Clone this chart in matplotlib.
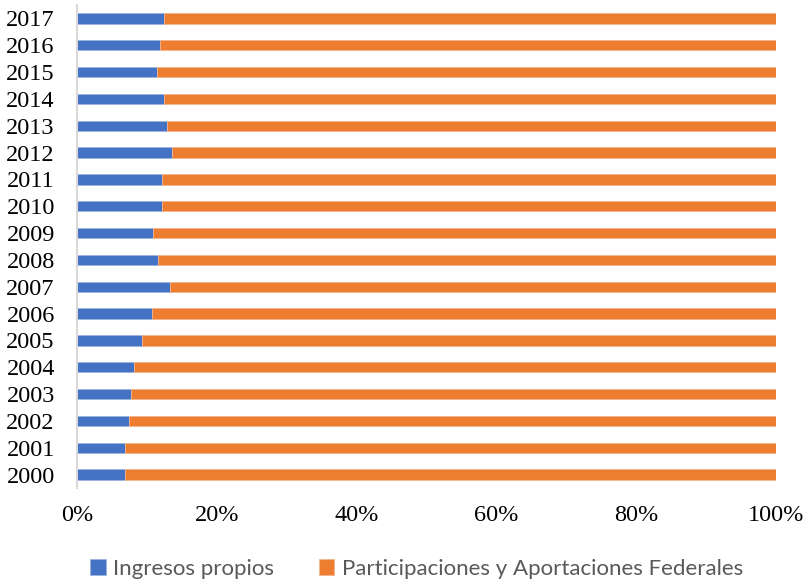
import numpy as np
import matplotlib.pyplot as plt

# Datos (porcentaje de ingresos propios por año)
years = [str(y) for y in range(2000, 2018)]
ingresos_propios = [6.9, 6.9, 7.4, 7.7, 8.1, 9.3, 10.7, 13.3, 11.6,
                    10.9, 12.2, 12.1, 13.6, 12.9, 12.45, 11.4, 11.9, 12.45]
participaciones = [100 - v for v in ingresos_propios]
xticks = [0, 20, 40, 60, 80, 100]

blue = '#4472C4'
orange = '#ED7D31'

fig = plt.figure(figsize=(8.09, 5.84), dpi=100)
ax = fig.add_axes([77 / 809, 96 / 584, 699 / 809, 483 / 584])

pos = np.arange(len(years))
ax.barh(pos, ingresos_propios, height=0.39, color=blue,
        edgecolor='#9DB3E0', linewidth=0.6, label='Ingresos propios')
ax.barh(pos, participaciones, left=ingresos_propios, height=0.39, color=orange,
        edgecolor='#F4B48A', linewidth=0.6,
        label='Participaciones y Aportaciones Federales')

ax.set_xlim(0, 100)
ax.set_ylim(-0.5, len(years) - 0.5)
ax.set_yticks(pos)
ax.set_yticklabels(years, family='Liberation Serif', fontsize=17.5)
ax.set_xticks(xticks)
ax.set_xticklabels([f'{t}%' for t in xticks], family='Liberation Serif', fontsize=17.5)
ax.tick_params(axis='both', length=0)
ax.tick_params(axis='x', pad=12)
ax.tick_params(axis='y', pad=16)

for s in ['top', 'right', 'bottom']:
    ax.spines[s].set_visible(False)
ax.spines['left'].set_color('#D9D9D9')
ax.spines['left'].set_linewidth(1.5)

fig.legend(loc='center', bbox_to_anchor=(0.515, 0.026), ncol=2, frameon=False,
           prop={'family': ['Lato', 'DejaVu Sans'], 'size': 16},
           labelcolor='#595959', handlelength=0.7, handleheight=0.7,
           handletextpad=0.35, columnspacing=2.0)

fig.savefig('out.png', dpi=100)
